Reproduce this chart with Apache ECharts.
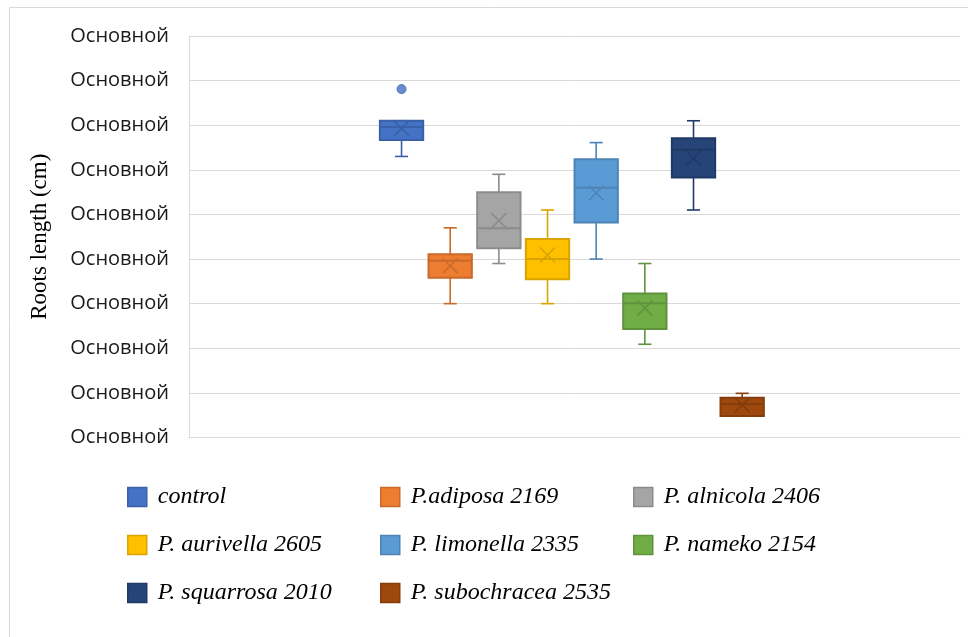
<!DOCTYPE html>
<html>
<head>
<meta charset="utf-8">
<script src="https://cdn.jsdelivr.net/npm/echarts@6.0.0/dist/echarts.min.js"></script>
</head>
<body style="margin:0;background:#fff;">
<!-- 图表容器 -->
<div id="main" style="width:968px;height:637px;"></div>
<script type="text/javascript">
    // data, in axis units (the ticks are 0..9)
    var categories = ['control', 'P.adiposa 2169', 'P. alnicola 2406', 'P. aurivella 2605',
        'P. limonella 2335', 'P. nameko 2154', 'P. squarrosa 2010', 'P. subochracea 2535'];
    var lows    = [6.30, 3.00, 3.90, 3.00, 4.00, 2.09, 5.10, 0.48];
    var q1s     = [6.67, 3.58, 4.24, 3.55, 4.82, 2.43, 5.83, 0.48];
    var medians = [6.96, 3.96, 4.69, 4.00, 5.60, 3.01, 6.45, 0.75];
    var q3s     = [7.10, 4.11, 5.50, 4.45, 6.24, 3.23, 6.71, 0.89];
    var highs   = [7.10, 4.70, 5.90, 5.10, 6.61, 3.90, 7.10, 0.99];
    var means   = [6.93, 3.85, 4.86, 4.09, 5.48, 2.90, 6.26, 0.73];
    var outliers = [[0, 7.81]];
    var tickLabels = ['Основной', 'Основной', 'Основной', 'Основной', 'Основной',
        'Основной', 'Основной', 'Основной', 'Основной', 'Основной'];

    var fills   = ['#4472C4', '#ED7D31', '#A5A5A5', '#FFC000', '#5B9BD5', '#70AD47', '#264478', '#9E480E'];
    var borders = ['#3A61A7', '#C96A2A', '#8C8C8C', '#D9A300', '#4D84B5', '#5F933C', '#203A66', '#863D0C'];

    var myChart = echarts.init(document.getElementById('main'));

    // box, whiskers, median and mean cross for one group
    function renderBox(params, api) {
        var i = api.value(0);
        var band = api.size([1, 0])[0];
        var x = api.coord([i, 0])[0];
        var yLo = api.coord([i, api.value(1)])[1];
        var yQ1 = api.coord([i, api.value(2)])[1];
        var yMd = api.coord([i, api.value(3)])[1];
        var yQ3 = api.coord([i, api.value(4)])[1];
        var yHi = api.coord([i, api.value(5)])[1];
        var yMn = api.coord([i, api.value(6)])[1];
        var half = band * 0.445;
        var cap = band * 0.135;
        var m = 7.5;
        var st = {stroke: borders[i], lineWidth: 1.6};
        return {
            type: 'group',
            children: [
                {type: 'line', shape: {x1: x, y1: yHi, x2: x, y2: yQ3}, style: st},
                {type: 'line', shape: {x1: x, y1: yQ1, x2: x, y2: yLo}, style: st},
                {type: 'line', shape: {x1: x - cap, y1: yHi, x2: x + cap, y2: yHi}, style: st},
                {type: 'line', shape: {x1: x - cap, y1: yLo, x2: x + cap, y2: yLo}, style: st},
                {type: 'rect', shape: {x: x - half, y: yQ3, width: half * 2, height: yQ1 - yQ3},
                    style: {fill: fills[i], stroke: borders[i], lineWidth: 2}},
                {type: 'line', shape: {x1: x - half, y1: yMd, x2: x + half, y2: yMd},
                    style: {stroke: borders[i], lineWidth: 2}},
                {type: 'line', shape: {x1: x - m, y1: yMn - m, x2: x + m, y2: yMn + m}, style: st},
                {type: 'line', shape: {x1: x - m, y1: yMn + m, x2: x + m, y2: yMn - m}, style: st}
            ]
        };
    }

    var series = [];
    for (var i = 0; i < categories.length; i++) {
        series.push({
            name: categories[i],
            type: 'custom',
            xAxisIndex: 1,
            yAxisIndex: 1,
            renderItem: renderBox,
            itemStyle: {color: fills[i], borderColor: borders[i]},
            encode: {x: 0, y: [1, 2, 3, 4, 5, 6]},
            data: [[i, lows[i], q1s[i], medians[i], q3s[i], highs[i], means[i]]]
        });
    }
    series.push({
        name: 'outliers',
        type: 'scatter',
        xAxisIndex: 1,
        yAxisIndex: 1,
        symbolSize: 9,
        itemStyle: {color: fills[0], borderColor: borders[0], borderWidth: 1},
        data: outliers
    });

    function legendCol(idx, left) {
        return {
            orient: 'vertical',
            left: left,
            top: 485,
            padding: 0,
            itemWidth: 19,
            itemHeight: 19,
            itemGap: 24,
            icon: 'rect',
            textStyle: {
                fontFamily: 'Liberation Serif',
                fontStyle: 'italic',
                fontSize: 24,
                lineHeight: 24,
                color: '#000',
                padding: [0, 0, 0, 6]
            },
            data: idx.map(function (k) {
                return {name: categories[k], itemStyle: {color: fills[k], borderColor: borders[k], borderWidth: 1.5}};
            })
        };
    }

    var option = {
        animation: false,
        backgroundColor: '#fff',
        graphic: [{
            type: 'rect',
            z: -10,
            shape: {x: 9.5, y: 7.5, width: 1000, height: 700},
            style: {fill: 'none', stroke: '#D9D9D9', lineWidth: 1}
        }],
        legend: [legendCol([0, 3, 6], 127), legendCol([1, 4, 7], 380), legendCol([2, 5], 633)],
        grid: [
            {left: 189, right: 8, top: 36, bottom: 199.5},
            {left: 377.2, width: 389.3, top: 36, bottom: 199.5}
        ],
        xAxis: [
            {
                type: 'category', gridIndex: 0, data: [''],
                axisLine: {lineStyle: {color: '#D9D9D9'}},
                axisTick: {show: false}, axisLabel: {show: false}
            },
            {
                type: 'category', gridIndex: 1, data: categories,
                axisLine: {show: false}, axisTick: {show: false}, axisLabel: {show: false}
            }
        ],
        yAxis: [
            {
                type: 'value', gridIndex: 0, min: 0, max: 9, interval: 1,
                name: 'Roots length (cm)',
                nameLocation: 'middle',
                nameRotate: 90,
                nameGap: 138,
                nameTextStyle: {fontFamily: 'Liberation Serif', fontSize: 23, color: '#000'},
                axisLine: {show: true, lineStyle: {color: '#D9D9D9'}},
                axisTick: {show: false},
                splitLine: {lineStyle: {color: '#D9D9D9', width: 1}},
                axisLabel: {
                    margin: 20,
                    padding: [3, 0, 0, 0],
                    fontFamily: 'Open Sans',
                    fontSize: 20,
                    color: '#1a1a1a',
                    formatter: function (v) { return tickLabels[Math.round(v)]; }
                }
            },
            {
                type: 'value', gridIndex: 1, min: 0, max: 9, interval: 1,
                axisLine: {show: false}, axisTick: {show: false},
                axisLabel: {show: false}, splitLine: {show: false}
            }
        ],
        series: series
    };
    myChart.setOption(option);
</script>
</body>
</html>
